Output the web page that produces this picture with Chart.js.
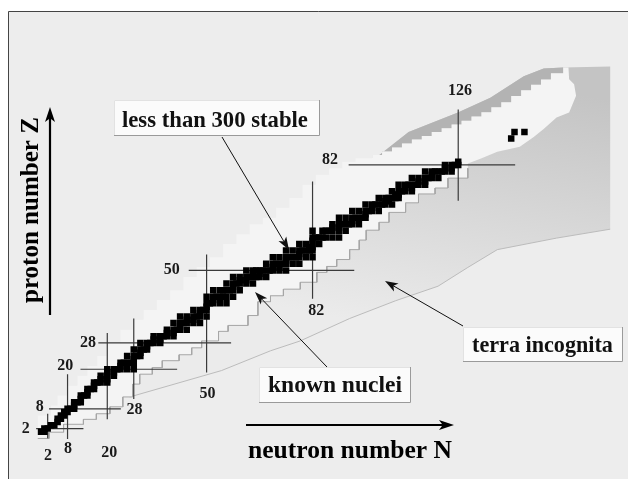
<!DOCTYPE html>
<html><head><meta charset="utf-8">
<script src="https://cdn.jsdelivr.net/npm/chart.js@4.4.1/dist/chart.umd.min.js"></script>
<style>html,body{margin:0;padding:0;background:#fff;overflow:hidden}canvas{display:block}</style>
</head><body>
<canvas id="c" width="628" height="479"></canvas>
<script>
// ---------- DATA (proton number Z, neutron numbers N of stable nuclides) ----------
const stableNuclides = [
 [1,[0,1]],[2,[1,2]],[3,[3,4]],[4,[5]],[5,[5,6]],[6,[6,7]],[7,[7,8]],[8,[8,9,10]],[9,[10]],[10,[10,11,12]],
 [11,[12]],[12,[12,13,14]],[13,[14]],[14,[14,15,16]],[15,[16]],[16,[16,17,18,20]],[17,[18,20]],[18,[18,20,22]],[19,[20,22]],[20,[20,22,23,24,26,28]],
 [21,[24]],[22,[24,25,26,27,28]],[23,[28]],[24,[26,28,29,30]],[25,[30]],[26,[28,30,31,32]],[27,[32]],[28,[30,32,33,34,36]],[29,[34,36]],[30,[34,36,37,38,40]],
 [31,[38,40]],[32,[38,40,41,42,44]],[33,[42]],[34,[40,42,43,44,46,48]],[35,[44,46]],[36,[42,44,46,47,48,50]],[37,[48]],[38,[46,48,49,50]],[39,[50]],[40,[50,51,52,54,56]],
 [41,[52]],[42,[50,52,53,54,55,56,58]],[44,[52,54,55,56,57,58,60]],[45,[58]],[46,[56,58,59,60,62,64]],[47,[60,62]],[48,[58,60,62,63,64,65,66,68]],[49,[64,66]],[50,[62,64,65,66,67,68,69,70,72,74]],
 [51,[70,72]],[52,[68,70,71,72,73,74,76,78]],[53,[74]],[54,[70,72,74,75,76,77,78,80,82]],[55,[78]],[56,[74,76,78,79,80,81,82]],[57,[81,82]],[58,[78,80,82,84]],[59,[82]],[60,[82,83,84,85,86,88,90]],
 [62,[82,85,86,87,88,90,92]],[63,[88,90]],[64,[88,90,91,92,93,94,96]],[65,[94]],[66,[90,92,94,95,96,97,98]],[67,[98]],[68,[94,96,98,99,100,102]],[69,[100]],[70,[98,100,101,102,103,104,106]],
 [71,[104,105]],[72,[102,104,105,106,107,108]],[73,[107,108]],[74,[106,108,109,110,112]],[75,[110,112]],[76,[108,110,111,112,113,114,116]],[77,[114,116]],[78,[112,114,116,117,118,120]],[79,[118]],[80,[116,118,119,120,121,122,124]],
 [81,[122,124]],[82,[122,124,125,126]],[83,[126]],[90,[142]],[92,[143,146]]
];
const magicNumbers = [2, 8, 20, 28, 50, 82, 126];

// known nuclei: proton-rich limit (lower-left -> top right)
const knownProtonN = [-1,-1,3,5,8,11,14,17,20,24,28,31,35,39,43,47,51,55,59,63,67,71,75,79,83,87,91,95,100,103,106,109,112,115,118,121,124,127,130,133,136,139,142,145,148,151,154,157.7,158];
const knownProtonZ = [-1,3,6,9,12,15,18,21,24,28,32,35,38,41,44,48,51,54,58,61,64,66,69,72,76,79,81,83,84,85,86.1,87.3,88.5,89.7,90.8,92,93.1,94.3,95.4,96.7,98,99.5,101,102.9,104.7,106.3,107.9,109.8,111.6];
// known nuclei: heavy end (top right, going down)
const knownHeavyN = [159.3,159.5,161,161.6,159.5,155.7,151.8,148.8,144.6,137.8,132.7,128.9];
const knownHeavyZ = [111.6,108,106.5,103,97.9,96.4,92.9,90.5,87.5,86,83.9,82.4];
// known nuclei: neutron-rich limit (top right -> lower-left)
const knownNeutronN = [128.9,122.9,119,114,110.1,105.1,102.1,98.2,96.1,93.2,89.3,86.3,83.3,78.3,73.2,69.3,65.5,62.5,56.5,53.6,48.5,45.5,41.7,36.6,33.6,29.8,27.7,24.7,20.8,16.7,12.8,6.8,2.4,-1];
const knownNeutronZ = [81,78,75,73.2,70.5,67.6,64.6,62.2,59.2,56.3,53.3,51.2,49.4,46.4,44.3,42.3,40.5,36.3,33.3,31.5,28.6,26.5,24.4,22.6,20.5,18.5,15.5,11.6,8.6,6.5,4.8,3.3,0.9,-1];
// neutron drip line (terra incognita lower edge)
const dripN = [26.8,54.5,69.3,78.3,93.2,107.1,119.9,128.9,137.8,155.7,171.9];
const dripZ = [11.6,19.6,25.6,28.6,35.4,40.8,45.2,50.9,56.3,59.8,62.5];
// proton drip line (upper edge of the heavy region)
const protonDripN = [101.5,111,125.9,135.7,145.8,151.8,157.7,171.9];
const protonDripZ = [84.5,92,97.9,102.4,108.9,111.3,111.6,111.9];
// interior return path of terra incognita (hidden under known nuclei)
const innerN = [95,70,45,30,26.8];
const innerZ = [75,55,35,25,13];

// ---------- LAYOUT (not data) ----------
const axisRange = {xMin:-11.012, xMax:175.89, yMin:-11.905, yMax:130.655};
const magicLayout = {
  2:  {v:[-0.9,6.5],  h:[-1.5,12.8],  nLab:[2.1,-6.4],  zLab:[-4.6,1.8]},
  8:  {v:[-1.2,18.5], h:[2.4,24.1],   nLab:[8.1,-4.3],  zLab:[-0.4,8.6]},
  20: {v:[4.8,31],    h:[11.9,41.1],  nLab:[20.6,-5.4], zLab:[7.3,21.1]},
  28: {v:[11,35.4],   h:[17.3,57.4],  nLab:[28.2,7.7],  zLab:[14.2,28.1]},
  50: {v:[19,54.8],   h:[44.6,94.6],  nLab:[50.3,12.5], zLab:[39.5,50.2]},
  82: {v:[41.4,77],   h:[92.9,143.2], nLab:[83.1,37.6], zLab:[87.3,83.6]},
  126:{v:[71.1,98.8], h:null,         nLab:[126.5,104.6], zLab:null}
};

const zip = (xs, ys) => xs.map((x, i) => ({x, y: ys[i]}));
// turn a boundary polyline into a staircase (vertical step first, like the nuclide grid outline)
function staircase(pts) {
  const out = [pts[0]];
  for (let i = 1; i < pts.length; i++) {
    out.push({x: pts[i - 1].x, y: pts[i].y});
    out.push(pts[i]);
  }
  return out;
}
const stablePts = [];
stableNuclides.forEach(([z, ns]) => ns.forEach(n => stablePts.push({x:n, y:z})));

const upperStair = staircase(zip(knownProtonN, knownProtonZ));
const lowerStair = staircase(zip(knownNeutronN, knownNeutronZ));
const knownPts = upperStair.concat(zip(knownHeavyN, knownHeavyZ), lowerStair);
const dripPts = zip(dripN, dripZ);
const protonDripPts = zip(protonDripN, protonDripZ);
const terraPts = dripPts.concat(protonDripPts.slice().reverse(), zip(innerN, innerZ));
const darkPts = protonDripPts.slice(0, protonDripPts.length - 1)
  .concat(upperStair.filter(p => p.x >= 100).reverse());

const magicPts = [];
magicNumbers.forEach(m => {
  const L = magicLayout[m];
  magicPts.push({x:m, y:L.v[0]}, {x:m, y:L.v[1]}, {x:null, y:null});
  if (L.h) magicPts.push({x:L.h[0], y:m}, {x:L.h[1], y:m}, {x:null, y:null});
});

const SERIF = '"Liberation Serif", "DejaVu Serif", serif';

function fitText(c, text, x, y, width) {
  c.font = 'bold 100px ' + SERIF;
  const w = c.measureText(text).width;
  c.font = 'bold ' + (100 * width / w).toFixed(2) + 'px ' + SERIF;
  c.textAlign = 'left'; c.textBaseline = 'alphabetic';
  c.fillText(text, x, y);
}
function arrow(c, x0, y0, x1, y1, lw, len, hw) {
  const a = Math.atan2(y1 - y0, x1 - x0), ca = Math.cos(a), sa = Math.sin(a);
  c.lineWidth = lw;
  c.beginPath(); c.moveTo(x0, y0);
  c.lineTo(x1 - ca * len * 0.7, y1 - sa * len * 0.7); c.stroke();
  c.beginPath(); c.moveTo(x1, y1);
  c.lineTo(x1 - ca * len - sa * hw, y1 - sa * len + ca * hw);
  c.lineTo(x1 - ca * len * 0.75, y1 - sa * len * 0.75);
  c.lineTo(x1 - ca * len + sa * hw, y1 - sa * len - ca * hw);
  c.closePath(); c.fill();
}
function box(c, x, y, w, h) {
  c.fillStyle = '#fbfbfb'; c.fillRect(x, y, w, h);
  c.lineWidth = 1;
  c.strokeStyle = '#e2e2e2';
  c.beginPath(); c.moveTo(x + 0.5, y + h); c.lineTo(x + 0.5, y + 0.5); c.lineTo(x + w, y + 0.5); c.stroke();
  c.strokeStyle = '#9a9a9a';
  c.beginPath(); c.moveTo(x + w - 0.5, y); c.lineTo(x + w - 0.5, y + h - 0.5); c.lineTo(x, y + h - 0.5); c.stroke();
}

const framePlugin = {
  id: 'frame',
  beforeDraw(chart) {
    const c = chart.ctx;
    c.save();
    c.fillStyle = '#ffffff'; c.fillRect(0, 0, chart.width, chart.height);
    c.fillStyle = '#ededed'; c.fillRect(8.5, 11.5, chart.width, chart.height);
    c.strokeStyle = '#444'; c.lineWidth = 1;
    c.beginPath(); c.moveTo(8.5, chart.height); c.lineTo(8.5, 11.5); c.lineTo(chart.width, 11.5); c.stroke();
    c.restore();
  }
};
const annotPlugin = {
  id: 'annot',
  afterDatasetsDraw(chart) {
    const c = chart.ctx, xs = chart.scales.x, ys = chart.scales.y;
    c.save();
    c.fillStyle = '#1a1a1a';
    c.font = 'bold 16px ' + SERIF;
    c.textAlign = 'center'; c.textBaseline = 'middle';
    magicNumbers.forEach(m => {
      const L = magicLayout[m];
      if (L.nLab) c.fillText(String(m), xs.getPixelForValue(L.nLab[0]), ys.getPixelForValue(L.nLab[1]));
      if (L.zLab) c.fillText(String(m), xs.getPixelForValue(L.zLab[0]), ys.getPixelForValue(L.zLab[1]));
    });
    c.strokeStyle = '#111'; c.fillStyle = '#111';
    arrow(c, 222, 137, 289, 250, 1, 13, 4.5);
    arrow(c, 327, 367, 255, 292, 1, 13, 4.5);
    arrow(c, 463, 326, 385, 281, 1, 13, 4.5);
    box(c, 114, 100, 206, 36);
    box(c, 259, 367, 152, 36);
    box(c, 463, 327, 160, 35);
    c.fillStyle = '#111';
    fitText(c, 'less than 300 stable', 122, 127, 186);
    fitText(c, 'known nuclei', 268, 392, 134);
    fitText(c, 'terra incognita', 472, 352, 141);
    c.strokeStyle = '#000'; c.fillStyle = '#000';
    arrow(c, 50, 315, 50, 107, 2.2, 15, 5);
    arrow(c, 246, 425, 454, 425, 2.2, 15, 5);
    fitText(c, 'neutron number N', 248, 458, 204);
    c.translate(38, 303); c.rotate(-Math.PI / 2);
    fitText(c, 'proton number Z', 0, 0, 186);
    c.restore();
  }
};

new Chart(document.getElementById('c'), {
  type: 'scatter',
  data: {
    datasets: [
      {type:'scatter', label:'stable', data: stablePts, order: 10, pointStyle:'rect', pointRadius: 4.6,
       backgroundColor:'#000', borderWidth: 0},
      {type:'line', label:'magic', data: magicPts, order: 20, borderColor:'#3a3a3a', borderWidth: 1.2,
       pointRadius: 0, fill: false, spanGaps: false},
      {type:'line', label:'known edge', data: lowerStair, order: 25, borderColor:'#a6a6a6', borderWidth: 1,
       pointRadius: 0, fill: false},
      {type:'line', label:'known', data: knownPts, order: 30, backgroundColor:'#f4f4f4', borderColor:'transparent',
       borderWidth: 0, pointRadius: 0, fill: 'shape'},
      {type:'line', label:'drip', data: dripPts, order: 35, borderColor:'#bcbcbc', borderWidth: 1,
       pointRadius: 0, fill: false},
      {type:'line', label:'dark', data: darkPts, order: 40, backgroundColor:'#b3b3b3', borderColor:'transparent',
       borderWidth: 0, pointRadius: 0, fill: 'shape'},
      {type:'line', label:'terra', data: terraPts, order: 50, borderColor:'transparent', borderWidth: 0,
       pointRadius: 0, fill: 'shape',
       backgroundColor: (ctx) => {
         const ch = ctx.chart, xs = ch.scales.x, ys = ch.scales.y;
         if (!xs || !ys || !ch.chartArea) return '#dddddd';
         const g = ch.ctx.createLinearGradient(xs.getPixelForValue(108), ys.getPixelForValue(32),
                                              xs.getPixelForValue(123), ys.getPixelForValue(111));
         g.addColorStop(0, '#ebebeb'); g.addColorStop(1, '#c4c4c4');
         return g;
       }}
    ]
  },
  options: {
    responsive: false, animation: false, devicePixelRatio: 1,
    layout: {padding: 0},
    plugins: {legend: {display: false}, tooltip: {enabled: false}},
    scales: {
      x: {type:'linear', display: false, min: axisRange.xMin, max: axisRange.xMax},
      y: {type:'linear', display: false, min: axisRange.yMin, max: axisRange.yMax}
    }
  },
  plugins: [framePlugin, annotPlugin]
});
</script>
</body></html>
